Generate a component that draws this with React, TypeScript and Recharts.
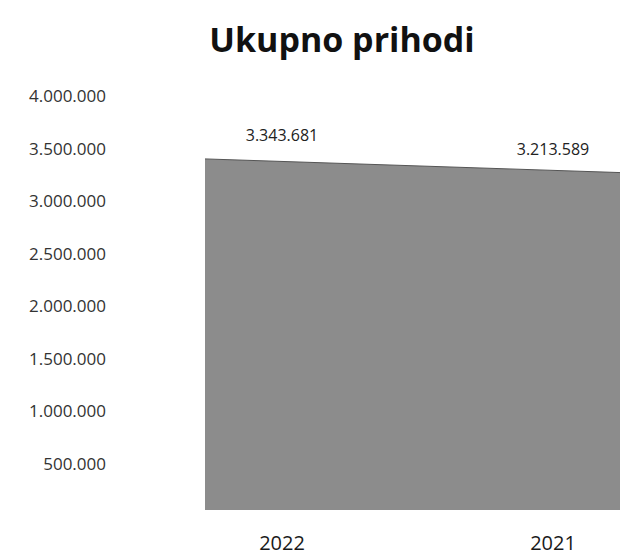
import { Area, AreaChart, LabelList, Line, XAxis, YAxis } from "recharts"

const years = ["2022", "2021"]
const income = [3343681, 3213589]
const yTicks = [500000, 1000000, 1500000, 2000000, 2500000, 3000000, 3500000, 4000000]

const data = years.map((year, i) => ({ year, income: income[i] }))

const fmt = (v: number) => v.toLocaleString("de-DE")

const font = "'Open Sans', sans-serif"

export default function App() {
    return (
        <div style={{ position: "absolute", left: 0, top: 0, width: 627, height: 559, background: "#fff" }}>
            <div
                style={{
                    position: "absolute",
                    left: 0,
                    top: 22,
                    width: 684,
                    textAlign: "center",
                    fontFamily: font,
                    fontWeight: 700,
                    fontSize: 34,
                    lineHeight: "34px",
                    color: "#111",
                }}
            >
                Ukupno prihodi
            </div>
            <AreaChart width={627} height={559} data={data} margin={{ top: 90, right: 7, bottom: 0, left: 0 }}>
                <XAxis xAxisId="area" dataKey="year" hide padding={{ left: 0, right: 0 }} />
                <XAxis
                    xAxisId="labels"
                    dataKey="year"
                    height={49}
                    padding={{ left: 77, right: 67 }}
                    axisLine={false}
                    tickLine={false}
                    tickSize={0}
                    tickMargin={0}
                    tick={{ fill: "#1a1a1a", fontSize: 20, fontFamily: font, dy: -4 } as any}
                />
                <YAxis
                    domain={[0, 4000000]}
                    ticks={yTicks}
                    width={205}
                    axisLine={false}
                    tickLine={false}
                    tickSize={0}
                    tickMargin={99}
                    tickFormatter={fmt}
                    tick={{ fill: "#333", fontSize: 17, fontFamily: font, dy: 6 } as any}
                />
                <Area
                    xAxisId="area"
                    type="linear"
                    dataKey="income"
                    stroke="#555"
                    strokeWidth={1}
                    fill="#8c8c8c"
                    fillOpacity={1}
                    isAnimationActive={false}
                />
                <Line
                    xAxisId="labels"
                    type="linear"
                    dataKey="income"
                    stroke="none"
                    dot={false}
                    activeDot={false}
                    isAnimationActive={false}
                >
                    <LabelList
                        dataKey="income"
                        position="top"
                        offset={18}
                        formatter={(v: any) => fmt(Number(v))}
                        style={{ fill: "#222", fontSize: 16, fontFamily: font }}
                    />
                </Line>
            </AreaChart>
        </div>
    )
}
